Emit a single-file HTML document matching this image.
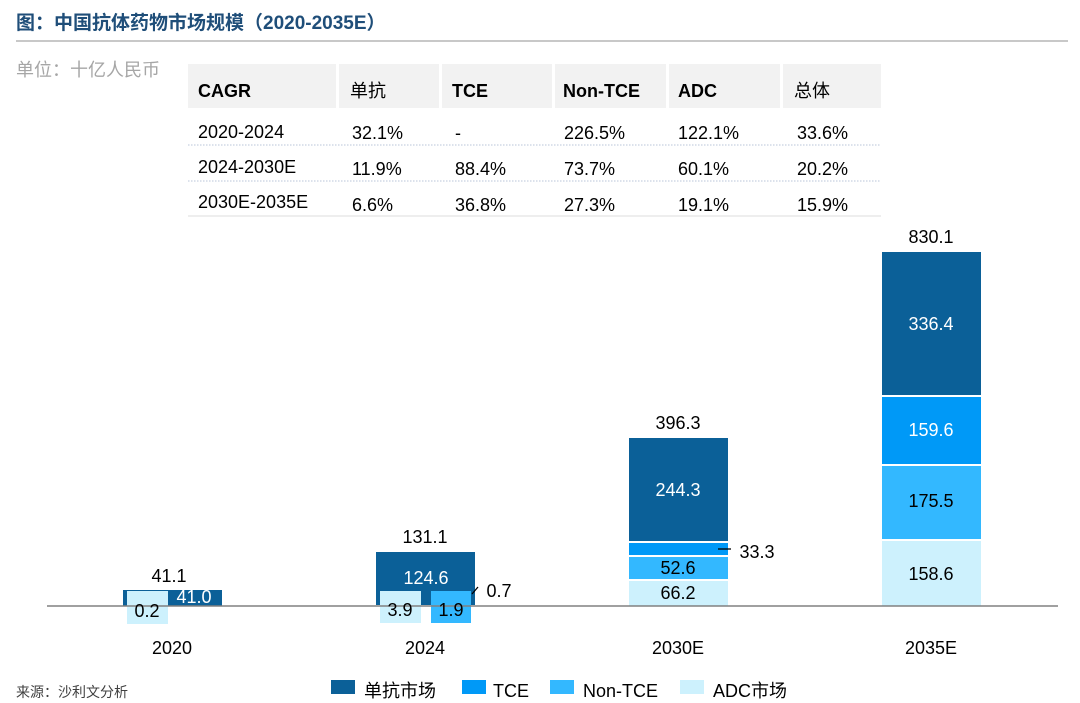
<!DOCTYPE html>
<html><head><meta charset="utf-8"><style>
body{margin:0;background:#fff;}
svg{display:block;font-family:"Liberation Sans","Noto Sans CJK SC",sans-serif;}
</style></head><body>
<svg width="1080" height="703" viewBox="0 0 1080 703">
<text x="16" y="29" font-size="19" fill="#1f4e79" font-weight="bold">图：中国抗体药物市场规模（2020-2035E）</text>
<rect x="16" y="40" width="1052" height="2" fill="#c8c8c8"/>
<text x="16" y="76" font-size="18" fill="#a6a6a6">单位：十亿人民币</text>
<g fill="#f2f2f2">
<rect x="188" y="64" width="148" height="44"/><rect x="339" y="64" width="100" height="44"/>
<rect x="442" y="64" width="110" height="44"/><rect x="555" y="64" width="111" height="44"/>
<rect x="669" y="64" width="111" height="44"/><rect x="783" y="64" width="98" height="44"/>
</g>
<g font-size="18" fill="#000">
<text x="198" y="97" font-weight="bold">CAGR</text><text x="350" y="97">单抗</text>
<text x="452" y="97" font-weight="bold">TCE</text><text x="563" y="97" font-weight="bold">Non-TCE</text>
<text x="678" y="97" font-weight="bold">ADC</text><text x="794" y="97">总体</text>
<text x="198" y="138">2020-2024</text><text x="352" y="139">32.1%</text><text x="455" y="139">-</text><text x="564" y="139">226.5%</text><text x="678" y="139">122.1%</text><text x="797" y="139">33.6%</text>
<text x="198" y="173">2024-2030E</text><text x="352" y="175">11.9%</text><text x="455" y="175">88.4%</text><text x="564" y="175">73.7%</text><text x="678" y="175">60.1%</text><text x="797" y="175">20.2%</text>
<text x="198" y="208">2030E-2035E</text><text x="352" y="211">6.6%</text><text x="455" y="211">36.8%</text><text x="564" y="211">27.3%</text><text x="678" y="211">19.1%</text><text x="797" y="211">15.9%</text>
</g>
<g stroke="#b8c4d8" stroke-dasharray="1.5 1.5">
<line x1="188" y1="145" x2="881" y2="145"/><line x1="188" y1="181" x2="881" y2="181"/>
</g>
<line x1="188" y1="216" x2="881" y2="216" stroke="#ddd"/>
<g>
<rect x="123" y="590" width="99" height="16" fill="#0b6098"/>
<rect x="376" y="552" width="99" height="53" fill="#0b6098"/>
<rect x="629" y="438" width="99" height="103" fill="#0b6098"/>
<rect x="629" y="543" width="99" height="12" fill="#0099f7"/>
<rect x="629" y="557" width="99" height="22" fill="#33b8ff"/>
<rect x="629" y="581" width="99" height="25" fill="#cdf1fd"/>
<rect x="882" y="252" width="99" height="143" fill="#0b6098"/>
<rect x="882" y="397" width="99" height="67" fill="#0099f7"/>
<rect x="882" y="466" width="99" height="73" fill="#33b8ff"/>
<rect x="882" y="541" width="99" height="65" fill="#cdf1fd"/>
<rect x="127" y="591" width="41" height="33" fill="#cdf1fd"/>
<rect x="380" y="591" width="41" height="32" fill="#cdf1fd"/>
<rect x="431" y="591" width="40" height="32" fill="#33b8ff"/>
</g>
<line x1="47" y1="606" x2="1058" y2="606" stroke="#808080" stroke-width="1.5"/>
<g font-size="18" text-anchor="middle">
<text x="169" y="582" fill="#000">41.1</text>
<text x="194" y="603" fill="#fff">41.0</text>
<text x="147" y="617" fill="#000">0.2</text>
<text x="425" y="543" fill="#000">131.1</text>
<text x="426" y="584" fill="#fff">124.6</text>
<text x="400" y="616" fill="#000">3.9</text>
<text x="451" y="616" fill="#000">1.9</text>
<text x="499" y="597" fill="#000">0.7</text>
<text x="678" y="429" fill="#000">396.3</text>
<text x="678" y="496" fill="#fff">244.3</text>
<text x="678" y="574" fill="#000">52.6</text>
<text x="678" y="599" fill="#000">66.2</text>
<text x="757" y="558" fill="#000">33.3</text>
<text x="931" y="243" fill="#000">830.1</text>
<text x="931" y="330" fill="#fff">336.4</text>
<text x="931" y="436" fill="#fff">159.6</text>
<text x="931" y="507" fill="#000">175.5</text>
<text x="931" y="580" fill="#000">158.6</text>
<text x="172" y="654" fill="#000">2020</text>
<text x="425" y="654" fill="#000">2024</text>
<text x="678" y="654" fill="#000">2030E</text>
<text x="931" y="654" fill="#000">2035E</text>
</g>
<line x1="472" y1="594" x2="478" y2="587" stroke="#000" stroke-width="1.3"/>
<line x1="718" y1="549" x2="731" y2="549" stroke="#000" stroke-width="1.3"/>
<text x="16" y="697" font-size="14" fill="#404040">来源：沙利文分析</text>
<g font-size="18" fill="#000">
<rect x="331" y="680" width="24" height="14" fill="#0b6098"/><text x="364" y="697">单抗市场</text>
<rect x="462" y="680" width="24" height="14" fill="#0099f7"/><text x="493" y="697">TCE</text>
<rect x="550" y="680" width="24" height="14" fill="#33b8ff"/><text x="583" y="697">Non-TCE</text>
<rect x="680" y="680" width="24" height="14" fill="#cdf1fd"/><text x="713" y="697">ADC市场</text>
</g>
</svg>
</body></html>
